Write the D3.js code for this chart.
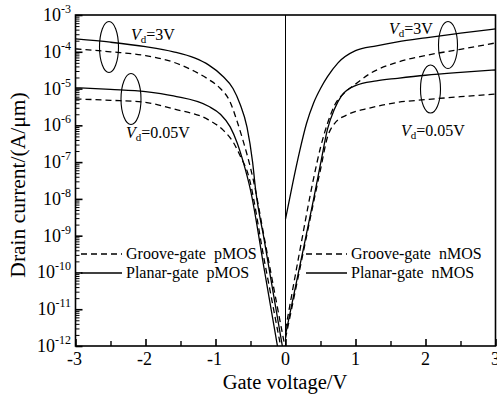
<!DOCTYPE html>
<html>
<head>
<meta charset="utf-8">
<script src="https://cdn.jsdelivr.net/npm/d3@7"></script>
<style>
  html, body { margin: 0; padding: 0; background: #fff; }
  svg { display: block; font-family: "Liberation Serif", "Times New Roman", serif; }
  text { fill: #000; }
</style>
</head>
<body>
<svg id="chart" width="497" height="397"></svg>
<script>
// Gate voltage (V) and drain current (A/μm) for each device / drain bias.
const pPlanar3V_V = [-3, -2.5, -2.0, -1.6, -1.3, -1.1, -0.9, -0.75, -0.65, -0.55, -0.47, -0.43, -0.3, -0.15, -0.045];
const pPlanar3V_I = [2.24e-4, 1.82e-4, 1.38e-4, 1.0e-4, 6.8e-5, 4.4e-5, 2.2e-5, 1.0e-5, 3.8e-6, 8.9e-7, 1.0e-7, 2.0e-8, 6.9e-10, 1.45e-11, 1e-12];

const pGroove3V_V = [-3, -2.5, -2.0, -1.6, -1.3, -1.1, -0.93, -0.8, -0.69, -0.6, -0.54, -0.46, -0.3, -0.15, -0.01];
const pGroove3V_I = [1.2e-4, 1.0e-4, 7.9e-5, 5.2e-5, 2.95e-5, 1.78e-5, 1.0e-5, 4.7e-6, 1.26e-6, 3.5e-7, 1.38e-7, 3.3e-8, 8.1e-10, 2.5e-11, 1e-12];

const pPlanar005_V = [-3, -2.5, -2.0, -1.6, -1.1, -0.93, -0.79, -0.69, -0.6, -0.5, -0.3, -0.115];
const pPlanar005_I = [1.05e-5, 9.5e-6, 8.3e-6, 6.3e-6, 3.3e-6, 2.0e-6, 9.1e-7, 3.3e-7, 9.5e-8, 1.74e-8, 1.1e-10, 1e-12];

const pGroove005_V = [-3, -2.5, -2.0, -1.6, -1.1, -0.89, -0.74, -0.64, -0.54, -0.3, -0.07];
const pGroove005_I = [5.2e-6, 4.8e-6, 4.2e-6, 2.8e-6, 1.41e-6, 7.4e-7, 3.3e-7, 1.38e-7, 5.1e-8, 2.0e-10, 1e-12];

const nPlanar3V_V = [0, 0.1, 0.2, 0.3, 0.4, 0.5, 0.6, 0.75, 1.0, 1.3, 1.6, 2.0, 2.5, 3.0];
const nPlanar3V_I = [2.8e-9, 2.5e-8, 1.9e-7, 1.12e-6, 4.0e-6, 1.0e-5, 2.1e-5, 5.0e-5, 1.07e-4, 1.45e-4, 1.86e-4, 2.4e-4, 3.2e-4, 4.2e-4];

const nGroove3V_V = [0, 0.2, 0.4, 0.5, 0.6, 0.7, 0.85, 1.0, 1.2, 1.6, 2.0, 2.5, 3.0];
const nGroove3V_I = [2.8e-12, 3.5e-10, 3.5e-8, 2.5e-7, 1.12e-6, 3.5e-6, 7.9e-6, 1.32e-5, 2.5e-5, 5.2e-5, 7.9e-5, 1.17e-4, 1.74e-4];

const nPlanar005_V = [0, 0.2, 0.4, 0.5, 0.6, 0.7, 0.8, 1.0, 1.3, 1.6, 2.0, 2.5, 3.0];
const nPlanar005_I = [2.0e-12, 1.38e-10, 9.5e-9, 8.9e-8, 7.9e-7, 2.8e-6, 6.3e-6, 1.2e-5, 1.62e-5, 1.9e-5, 2.3e-5, 2.75e-5, 3.2e-5];

const nGroove005_V = [0, 0.2, 0.4, 0.5, 0.6, 0.7, 0.9, 1.2, 1.6, 2.0, 2.5, 3.0];
const nGroove005_I = [1.6e-12, 1.12e-10, 7.9e-9, 6.3e-8, 4.8e-7, 1.12e-6, 2.0e-6, 2.95e-6, 4.2e-6, 5.0e-6, 6.0e-6, 7.1e-6];

// Axis ticks
const xMajorTicks = [-3, -2, -1, 0, 1, 2, 3];
const xMinorTicks = [-2.5, -1.5, -0.5, 0.5, 1.5, 2.5];
const yExponents = [-3, -4, -5, -6, -7, -8, -9, -10, -11, -12];

// Legend entries
const legendLeft = [
  { label: "Groove-gate  pMOS", dashed: true },
  { label: "Planar-gate  pMOS", dashed: false }
];
const legendRight = [
  { label: "Groove-gate  nMOS", dashed: true },
  { label: "Planar-gate  nMOS", dashed: false }
];

const series = [
  { V: pPlanar3V_V, I: pPlanar3V_I, dashed: false },
  { V: pGroove3V_V, I: pGroove3V_I, dashed: true },
  { V: pPlanar005_V, I: pPlanar005_I, dashed: false },
  { V: pGroove005_V, I: pGroove005_I, dashed: true },
  { V: nPlanar3V_V, I: nPlanar3V_I, dashed: false },
  { V: nGroove3V_V, I: nGroove3V_I, dashed: true },
  { V: nPlanar005_V, I: nPlanar005_I, dashed: false },
  { V: nGroove005_V, I: nGroove005_I, dashed: true }
];

const svg = d3.select("#chart");
const plotL = 75.5, plotR = 495.5, plotT = 15, plotB = 346;

const x = d3.scaleLinear().domain([-3, 3]).range([plotL, plotR]);
const y = d3.scaleLog().domain([1e-12, 1e-3]).range([plotB, plotT]);

// Plot clip
svg.append("clipPath").attr("id", "plotClip")
  .append("rect").attr("x", plotL).attr("y", plotT)
  .attr("width", plotR - plotL).attr("height", plotB - plotT);

// Vertical reference line at zero gate voltage
svg.append("line")
  .attr("x1", x(0)).attr("x2", x(0))
  .attr("y1", plotT).attr("y2", plotB)
  .attr("stroke", "#000").attr("stroke-width", 1);

// Curves
const line = d3.line()
  .x(d => x(d[0]))
  .y(d => y(d[1]))
  .curve(d3.curveMonotoneX);

const curves = svg.append("g").attr("clip-path", "url(#plotClip)");
series.forEach(s => {
  const pts = s.V.map((v, i) => [v, s.I[i]]);
  curves.append("path")
    .attr("d", line(pts))
    .attr("fill", "none")
    .attr("stroke", "#000")
    .attr("stroke-width", 1.3)
    .attr("stroke-dasharray", s.dashed ? "6,4" : null);
});

// Y axis (log) with inward ticks
const yAxis = d3.axisRight(y)
  .tickValues(yExponents.map(e => Math.pow(10, e)))
  .tickSize(7)
  .tickFormat("");
svg.append("g").attr("transform", `translate(${plotL},0)`).call(yAxis)
  .call(g => g.select(".domain").remove())
  .call(g => g.selectAll("line").attr("stroke-width", 1.6));

const minorY = [];
for (let e = -12; e < -3; e++) {
  for (let m = 2; m <= 9; m++) minorY.push(m * Math.pow(10, e));
}
const yMinorAxis = d3.axisRight(y).tickValues(minorY).tickSize(4).tickFormat("");
svg.append("g").attr("transform", `translate(${plotL},0)`).call(yMinorAxis)
  .call(g => g.select(".domain").remove())
  .call(g => g.selectAll("line").attr("stroke-width", 1));

// Y tick labels: 10 with superscript exponent
yExponents.forEach(e => {
  const t = svg.append("text")
    .attr("x", 71)
    .attr("y", y(Math.pow(10, e)) + 6)
    .attr("text-anchor", "end")
    .attr("font-size", 18);
  t.append("tspan").text("10");
  t.append("tspan").attr("dy", -8).attr("font-size", 12).text(String(e));
});

// X axis with inward ticks
const xAxis = d3.axisTop(x).tickValues(xMajorTicks).tickSize(7).tickFormat("");
svg.append("g").attr("transform", `translate(0,${plotB})`).call(xAxis)
  .call(g => g.select(".domain").remove())
  .call(g => g.selectAll("line").attr("stroke-width", 1.6));
const xMinorAxis = d3.axisTop(x).tickValues(xMinorTicks).tickSize(5).tickFormat("");
svg.append("g").attr("transform", `translate(0,${plotB})`).call(xMinorAxis)
  .call(g => g.select(".domain").remove())
  .call(g => g.selectAll("line").attr("stroke-width", 1.4));

xMajorTicks.forEach(v => {
  svg.append("text")
    .attr("x", x(v) + (v < 0 ? -1 : 0))
    .attr("y", 365)
    .attr("text-anchor", "middle")
    .attr("font-size", 18)
    .text(String(v));
});

// Frame
svg.append("rect")
  .attr("x", plotL).attr("y", plotT)
  .attr("width", plotR - plotL).attr("height", plotB - plotT)
  .attr("fill", "none").attr("stroke", "#000").attr("stroke-width", 1.6);

// Axis titles
svg.append("text")
  .attr("x", 285)
  .attr("y", 389)
  .attr("text-anchor", "middle")
  .attr("font-size", 20.5)
  .text("Gate voltage/V");

svg.append("text")
  .attr("transform", "translate(25,185) rotate(-90)")
  .attr("text-anchor", "middle")
  .attr("font-size", 21.5)
  .text("Drain current/(A/μm)");

// Bias ellipses
const ellipses = [
  { cx: 109, cy: 47, rx: 9.5, ry: 25.5 },
  { cx: 131, cy: 99, rx: 10, ry: 25.5 },
  { cx: 448, cy: 45, rx: 9.5, ry: 23.5 },
  { cx: 430.5, cy: 89, rx: 10, ry: 24 }
];
ellipses.forEach(e => {
  svg.append("ellipse")
    .attr("cx", e.cx).attr("cy", e.cy)
    .attr("rx", e.rx).attr("ry", e.ry)
    .attr("fill", "none").attr("stroke", "#000").attr("stroke-width", 1.1);
});

// Bias labels
const biasLabels = [
  { x: 131, y: 40, v: "=3V" },
  { x: 126, y: 138, v: "=0.05V" },
  { x: 389, y: 34, v: "=3V" },
  { x: 401, y: 136, v: "=0.05V" }
];
biasLabels.forEach(b => {
  const t = svg.append("text").attr("x", b.x).attr("y", b.y).attr("font-size", 16);
  t.append("tspan").attr("font-style", "italic").text("V");
  t.append("tspan").attr("font-size", 11).attr("dy", 3).text("d");
  t.append("tspan").attr("dy", -3).text(b.v);
});

// Legends
function drawLegend(entries, x0, y0) {
  entries.forEach((d, i) => {
    const yy = y0 + i * 19;
    svg.append("line")
      .attr("x1", x0).attr("x2", x0 + 41)
      .attr("y1", yy).attr("y2", yy)
      .attr("stroke", "#000").attr("stroke-width", 1.3)
      .attr("stroke-dasharray", d.dashed ? "6,4" : null);
    svg.append("text")
      .attr("x", x0 + 45).attr("y", yy + 5)
      .attr("font-size", 16)
      .style("white-space", "pre")
      .text(d.label);
  });
}
drawLegend(legendLeft, 81, 254);
drawLegend(legendRight, 306, 254);
</script>
</body>
</html>
